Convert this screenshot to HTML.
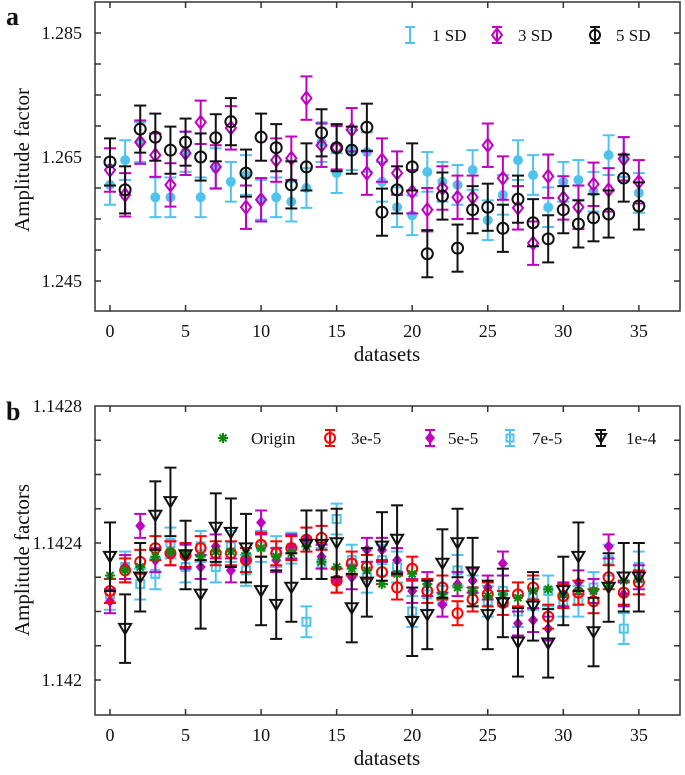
<!DOCTYPE html>
<html><head><meta charset="utf-8"><style>
body{margin:0;background:#fff}
svg{display:block;font-family:"Liberation Serif",serif}
</style></head><body>
<svg id="s" width="685" height="775"></svg>
<script>
// Panel a data (values in 1e-3 above 1.245)
const a1SD=[15.5,19.5,22.4,13.5,13.5,20.8,13.5,18.2,16.0,17.1,13.1,13.5,12.8,15.0,22.4,17.4,21.1,20.8,16.0,11.9,10.6,17.6,16.0,15.5,17.9,9.8,13.9,19.5,17.1,11.9,16.0,16.3,14.4,20.3,20.0,14.2];
const a3SD=[17.9,13.9,22.4,20.3,15.5,20.6,25.6,18.4,24.7,11.9,13.1,19.5,19.8,29.5,21.9,21.5,24.4,17.4,19.5,17.4,14.4,11.5,15.0,13.5,13.5,21.9,16.6,11.8,6.1,16.9,13.4,11.9,15.6,14.7,19.7,16.0];
const a5SD=[19.2,14.7,24.5,23.2,21.1,22.4,20.0,23.1,25.7,17.4,23.2,21.5,15.5,18.4,23.9,21.5,21.1,24.8,11.1,14.7,18.4,4.4,13.7,5.3,11.5,11.9,8.5,13.2,9.4,6.8,11.5,9.2,10.2,10.8,16.6,12.1];
const aErr1=3.2, aErr3=3.5, aErr5=3.8;
// Panel b data (values in 1e-4 above 1.1420)
const bOrigin=[3.05,3.2,3.3,3.6,3.75,3.7,3.6,3.75,3.75,3.7,3.85,3.6,3.7,3.9,3.45,3.3,3.25,3.2,2.8,3.1,3.1,2.8,2.5,2.7,2.6,2.45,2.5,2.4,2.6,2.65,2.5,2.6,2.6,2.75,2.9,2.95];
const b3e5=[2.6,3.2,3.45,3.85,3.7,3.65,3.85,3.7,3.7,3.5,3.95,3.7,3.85,4.1,4.15,2.9,3.4,3.3,3.15,2.7,3.25,2.6,2.7,1.95,2.35,2.5,2.25,2.5,2.7,1.85,2.45,2.55,2.3,3.0,2.55,2.85];
const b5e5=[2.3,3.3,4.5,3.5,3.7,3.6,3.3,3.9,3.2,3.5,4.6,3.5,3.9,4.1,3.6,2.9,3.0,3.8,3.8,3.5,2.6,2.8,2.2,2.8,2.9,2.7,3.4,1.65,1.75,1.5,2.5,2.85,2.6,3.9,2.5,3.0];
const b7e5=[2.5,3.3,2.8,3.1,4.0,3.3,3.9,3.3,3.9,3.2,3.9,3.75,3.85,1.7,3.4,4.7,3.5,3.0,3.5,3.3,2.0,2.5,2.3,3.2,2.6,2.3,2.6,2.0,2.5,2.6,2.3,2.3,2.7,3.5,1.5,3.3];
const b1e4=[3.6,1.5,3.0,4.8,5.2,3.65,2.5,4.45,4.3,3.85,2.6,2.2,2.7,3.95,3.95,4.0,2.1,2.85,3.9,4.1,1.7,1.9,3.4,4.0,3.15,1.9,2.25,1.1,2.15,1.07,2.6,3.6,1.4,2.7,3.0,3.0];
const bErr3=0.35,bErr5=0.35,bErr7=0.45,bErr1=1.0;
const xTicks=[0,5,10,15,20,25,30,35];
const aYTicks=[1.245,1.265,1.285];
const bYTicks=[1.142,1.1424,1.1428];

const S=document.getElementById('s'),NS='http://www.w3.org/2000/svg';
function el(t,at,p){const e=document.createElementNS(NS,t);for(const k in at)e.setAttribute(k,at[k]);(p||S).appendChild(e);return e;}
const L=95,R=680;
const X=i=>110+i*15.11;
const Ya=v=>281-v*6.2;
const YaVal=val=>Ya((val-1.245)*1000);
const Yb=v=>680-v*34.25;
const YbVal=val=>Yb((val-1.142)*10000);

function frame(top,bot,name,yMinor,yVal,yTickVals,ylabel,labelY,fmt){
  const g=el('g',{});
  
  
  el('rect',{x:L,y:top,width:R-L,height:bot-top,fill:'none',stroke:'#333','stroke-width':1.5},g);
  xTicks.forEach(t=>{
    el('line',{x1:X(t),x2:X(t),y1:bot,y2:bot-6,stroke:'#333','stroke-width':1.5},g);
    el('line',{x1:X(t),x2:X(t),y1:top,y2:top+6,stroke:'#333','stroke-width':1.5},g);
    const tx=el('text',{x:X(t),y:bot+26,'text-anchor':'middle','font-size':18,fill:'#111'},g);tx.textContent=t;
    
    
  });
  yMinor.forEach(y=>{
    el('line',{x1:L,x2:L+6,y1:y,y2:y,stroke:'#333','stroke-width':1.5},g);
    el('line',{x1:R,x2:R-6,y1:y,y2:y,stroke:'#333','stroke-width':1.5},g);
  });
  yTickVals.forEach(v=>{
    const tx=el('text',{x:L-13,y:yVal(v)+6,'text-anchor':'end','font-size':18,fill:'#111'},g);tx.textContent=fmt(v);
    
    
  });
  const xl=el('text',{x:387,y:bot+50,'text-anchor':'middle','font-size':21,fill:'#111'},g);xl.textContent='datasets';
  
  
  const yl=el('text',{x:0,y:0,'text-anchor':'middle','font-size':21,fill:'#111',transform:`translate(29,${labelY}) rotate(-90)`},g);yl.textContent=ylabel;
  
  
}
frame(2,311,'panel-a',[0,5,10,15,20,25,30,35,40].map(v=>Ya(v)),YaVal,aYTicks,'Amplitude factor',160,v=>v.toFixed(3));
frame(406,715,'panel-b',[0,1,2,3,4,5,6,7].map(v=>Yb(v)),YbVal,bYTicks,'Amplitude factors',560,v=>String(v));

function lbl(t,x,y){const e=el('text',{x:x,y:y,'font-size':26,'font-weight':'bold',fill:'#111'});e.textContent=t;
  
  }
lbl('a',6,25);lbl('b',6,420);

function ebar(g,x,y1,y2,c,w){
  el('line',{x1:x,x2:x,y1:y1,y2:y2,stroke:c,'stroke-width':2},g);
  el('line',{x1:x-w,x2:x+w,y1:y1,y2:y1,stroke:c,'stroke-width':2},g);
  el('line',{x1:x-w,x2:x+w,y1:y2,y2:y2,stroke:c,'stroke-width':2},g);
}
function marker(g,type,x,y,c,s){
  if(type==='dot')el('circle',{cx:x,cy:y,r:s,fill:c},g);
  else if(type==='circle')el('circle',{cx:x,cy:y,r:s,fill:'none',stroke:c,'stroke-width':2},g);
  else if(type==='diamond')el('polygon',{points:`${x},${y-s*1.3} ${x+s},${y} ${x},${y+s*1.3} ${x-s},${y}`,fill:'none',stroke:c,'stroke-width':2},g);
  else if(type==='fdiamond')el('polygon',{points:`${x},${y-s*1.2} ${x+s},${y} ${x},${y+s*1.2} ${x-s},${y}`,fill:c},g);
  else if(type==='square')el('rect',{x:x-s,y:y-s,width:2*s,height:2*s,fill:'none',stroke:c,'stroke-width':2},g);
  else if(type==='tri')el('polygon',{points:`${x-s},${y-s*0.8} ${x+s},${y-s*0.8} ${x},${y+s*0.9}`,fill:'none',stroke:c,'stroke-width':2},g);
  else if(type==='star'){for(let k=0;k<4;k++){const a=k*Math.PI/4;el('line',{x1:x-s*Math.cos(a),y1:y-s*Math.sin(a),x2:x+s*Math.cos(a),y2:y+s*Math.sin(a),stroke:c,'stroke-width':2},g);}}
}
function series(name,vals,err,Y,type,c,s){
  const g=el('g',{});
  
  
  vals.forEach((v,i)=>{
    const x=X(i);
    if(err>0)ebar(g,x,Y(v+err),Y(v-err),c,6);
    marker(g,type,x,Y(v),c,s);
  });
}
const CY='#4fc3ee',MG='#c000c0',BK='#111',RD='#f00',GR='#0a8a0a';
series('series-1sd',a1SD,aErr1,Ya,'dot',CY,5);
series('series-3sd',a3SD,aErr3,Ya,'diamond',MG,5);
series('series-5sd',a5SD,aErr5,Ya,'circle',BK,5.5);

series('series-7e-5',b7e5,bErr7,Yb,'square',CY,4);
series('series-5e-5',b5e5,bErr5,Yb,'fdiamond',MG,5);
series('series-3e-5',b3e5,bErr3,Yb,'circle',RD,5);
series('series-origin',bOrigin,0,Yb,'star',GR,5);
series('series-1e-4',b1e4,bErr1,Yb,'tri',BK,6);

function legend(x,y,type,c,s,text,tx,bar){
  const g=el('g',{});
  
  
  if(bar)ebar(g,x,y-8,y+8,c,5);
  marker(g,type,x,y,c,s);
  const t=el('text',{x:tx,y:y+6,'font-size':17,fill:'#111'},g);t.textContent=text;
}
legend(410,35,'dot',CY,0,'1 SD',432,true);
legend(497,35,'diamond',MG,5,'3 SD',518,true);
legend(595,35,'circle',BK,5,'5 SD',616,true);
legend(223,438,'star',GR,5,'Origin',251,false);
legend(330,438,'circle',RD,5,'3e-5',351,true);
legend(430,438,'fdiamond',MG,5,'5e-5',448,true);
legend(510,438,'square',CY,3.5,'7e-5',532,true);
legend(601,438,'tri',BK,5,'1e-4',626,true);
</script>
</body></html>
